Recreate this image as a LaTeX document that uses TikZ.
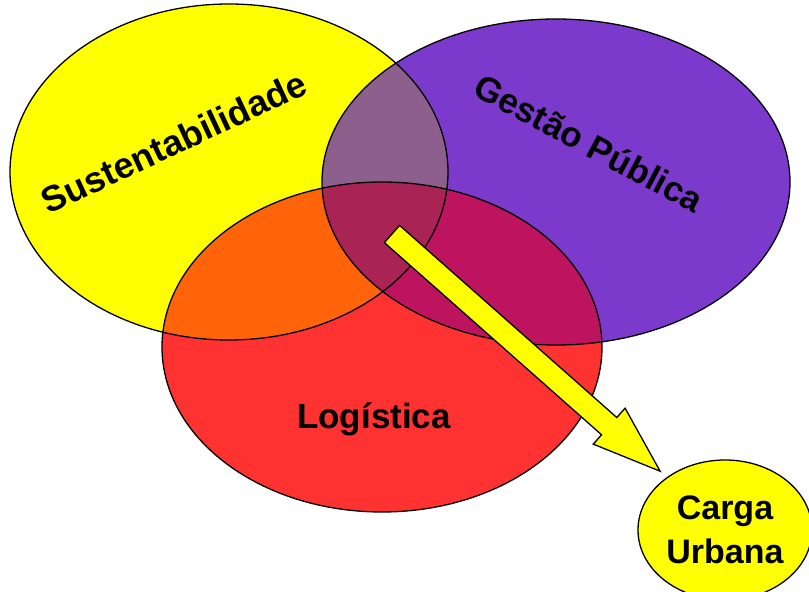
\documentclass[tikz,border=0pt]{standalone}
\usepackage{fontspec}
\setmainfont{Liberation Sans}
\usetikzlibrary{shapes}
\usetikzlibrary{arrows}

\definecolor{amarelo}{RGB}{255,255,0}
\definecolor{roxo}{RGB}{124,58,204}
\definecolor{vermelho}{RGB}{255,50,50}
\definecolor{laranja}{RGB}{255,100,10}
\definecolor{amareloroxo}{RGB}{140,95,140}
\definecolor{vermelhoroxo}{RGB}{190,20,95}
\definecolor{triplo}{RGB}{170,35,85}

\newcommand{\elSust}{(229,420) ellipse [x radius=219pt, y radius=168pt]}
\newcommand{\elGest}{(556,410) ellipse [x radius=234pt, y radius=163pt]}
\newcommand{\elLogi}{(382,245) ellipse [x radius=220pt, y radius=165pt]}

\begin{document}
\begin{tikzpicture}[x=1pt,y=1pt]
				\tikzstyle{contorno}=[draw=black,line width=1.3pt]
				\tikzstyle{rotulo}=[font=\fontsize{35}{40}\selectfont\bfseries]
				\tikzstyle{seta}=[draw=black,line width=1.3pt,fill=amarelo,line join=miter]
				\useasboundingbox (0,0) rectangle (809,592);
				\fill[amarelo] \elSust;
				\fill[roxo] \elGest;
				\fill[vermelho] \elLogi;
				\begin{scope}
					\clip \elSust;
					\fill[amareloroxo] \elGest;
					\fill[laranja] \elLogi;
				\end{scope}
				\begin{scope}
					\clip \elGest;
					\fill[vermelhoroxo] \elLogi;
					\clip \elSust;
					\fill[triplo] \elLogi;
				\end{scope}
				\draw[contorno] \elSust;
				\draw[contorno] \elGest;
				\draw[contorno] \elLogi;
				\node[rotulo,rotate=25,font=\fontsize{36}{40}\selectfont\bfseries] (txtsust) at (174,450) {Sustentabilidade};
				\node[rotulo,rotate=-28] (txtgest) at (589,449) {Gestão Pública};
				\node[rotulo] (txtlogi) at (374,173) {Logística};
				\coordinate (inicio) at (392,358);
				\begin{scope}[shift={(inicio)},rotate=-41.5]
					\draw[seta] (0,-11.5) -- (290,-11.5) -- (290,-24) -- (358,0) -- (290,24) -- (290,11.5) -- (0,11.5) -- cycle;
				\end{scope}
				\node[ellipse,contorno,fill=amarelo,minimum width=174pt,minimum height=140pt,inner sep=0pt,align=center,
					font=\fontsize{34}{44}\selectfont\bfseries] (carga) at (725,62) {Carga\\Urbana};
\end{tikzpicture}
\end{document}
